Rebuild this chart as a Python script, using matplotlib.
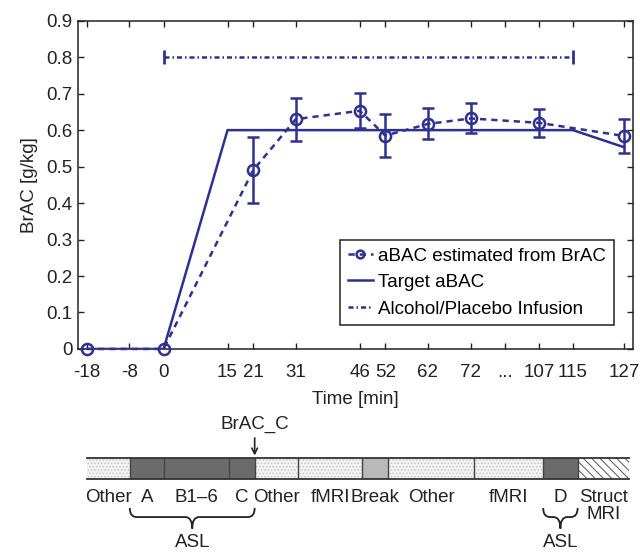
import numpy as np
import matplotlib
matplotlib.use('Agg')
import matplotlib.pyplot as plt
from matplotlib.path import Path
from matplotlib.patches import PathPatch, Rectangle

plt.rcParams['font.family'] = ['Liberation Sans', 'DejaVu Sans']
plt.rcParams['hatch.linewidth'] = 0.7

BLUE = '#2e3192'
INK = '#222222'
FS = 13.5

## Data
# aBAC estimated from BrAC (mean with error bars)
time_est = [-18, 0, 21, 31, 46, 52, 62, 72, 107, 127]
abac_est = [0, 0, 0.49, 0.63, 0.653, 0.585, 0.617, 0.632, 0.62, 0.584]
est_low = [0, 0, 0.40, 0.571, 0.605, 0.525, 0.575, 0.591, 0.582, 0.536]
est_high = [0, 0, 0.582, 0.689, 0.701, 0.644, 0.660, 0.673, 0.658, 0.630]

# target aBAC
time_target = [-18, 0, 15, 115, 127]
abac_target = [0, 0, 0.6, 0.6, 0.553]

# infusion period
time_infusion = [0, 115]
level_infusion = [0.8, 0.8]

tick_times = [-18, -8, 0, 15, 21, 31, 46, 52, 62, 72, 107, 115, 127]

# session timeline
seg_edges = [-18, -8, 0, 15, 21, 31, 46, 52, 72, 107, 115, 127]
seg_names = ['Other', 'A', 'B1–6', 'C', 'Other', 'fMRI', 'Break', 'Other',
             'fMRI', 'D', 'Struct\nMRI']
seg_kinds = ['other', 'asl', 'asl', 'asl', 'other', 'other', 'break', 'other',
             'other', 'asl', 'struct']
asl_groups = [(-8, 21), (107, 115)]


# the axis is cut between 72 and 107 min
def xpos(t):
    t = np.asarray(t, dtype=float)
    return np.where(t > 72, t - 19, t)


fig = plt.figure(figsize=(6.4, 5.52), dpi=100)
ax = fig.add_axes([0.1223, 0.3678, 0.8663, 0.5947])

x_est = xpos(time_est)
ln_est, = ax.plot(x_est, abac_est, color=BLUE, lw=1.8, ls=(0, (2.5, 2)),
                  marker='o', ms=8, mfc='none', mew=1.8, clip_on=False, zorder=4)
err_idx = slice(2, None)
yerr = [np.array(abac_est[err_idx]) - np.array(est_low[err_idx]),
        np.array(est_high[err_idx]) - np.array(abac_est[err_idx])]
ax.errorbar(x_est[err_idx], abac_est[err_idx], yerr=yerr, fmt='none',
            ecolor=BLUE, elinewidth=1.8, capsize=4, capthick=1.8, zorder=4)

ln_tgt, = ax.plot(xpos(time_target), abac_target, color=BLUE, lw=1.8, zorder=3)
ln_inf, = ax.plot(xpos(time_infusion), level_infusion, color=BLUE, lw=1.8,
                  ls=(0, (2, 1.2, 0.6, 1.2)), zorder=3)
ax.plot(xpos(time_infusion), level_infusion, ls='none', marker='|', ms=10,
        mew=2, color=BLUE, zorder=3)

ax.set_xlim(-20, 110)
ax.set_ylim(0, 0.9)
xt = list(xpos(tick_times[:10])) + [80] + list(xpos(tick_times[10:]))
xl = [str(t) for t in tick_times[:10]] + ['...'] + [str(t) for t in tick_times[10:]]
ax.set_xticks(xt)
ax.set_xticklabels(xl)
yt = np.round(np.arange(0, 0.91, 0.1), 1)
ax.set_yticks(yt)
ax.set_yticklabels(['0'] + [f'{v:.1f}' for v in yt[1:]])
ax.tick_params(direction='in', length=4, width=1, top=True, right=True,
               labelsize=FS, colors=INK)
ax.tick_params(axis='x', pad=11)
ax.tick_params(axis='y', pad=4)
for s in ax.spines.values():
    s.set_linewidth(1.1)
    s.set_color(INK)
ax.set_xlabel('Time [min]', fontsize=FS, color=INK, labelpad=7)
ax.set_ylabel('BrAC [g/kg]', fontsize=FS, color=INK, labelpad=6)

leg = ax.legend([ln_est, ln_tgt, ln_inf],
                ['aBAC estimated from BrAC', 'Target aBAC', 'Alcohol/Placebo Infusion'],
                loc='lower right', bbox_to_anchor=(0.966, 0.073), fontsize=FS,
                fancybox=False, framealpha=1, edgecolor=INK, handlelength=1.35,
                handletextpad=0.3, labelspacing=0.5, borderpad=0.4,
                borderaxespad=0, markerscale=0.7)
leg.get_frame().set_linewidth(1.1)

## Timeline bar
bx = fig.add_axes([0.1355, 0.1317, 0.8478, 0.038])
bx.set_xlim(xpos(-18), xpos(127))
bx.set_ylim(0, 1)
bx.axis('off')

styles = {
    'other': dict(facecolor='#f2f2f2', hatch='.....', edgecolor='#c8c8c8'),
    'asl': dict(facecolor='#6b6b6b', edgecolor='#6b6b6b'),
    'break': dict(facecolor='#b9b9b9', edgecolor='#b9b9b9'),
    'struct': dict(facecolor='white', hatch='\\\\\\\\', edgecolor='#555555'),
}
edges = xpos(seg_edges)
for i, (name, kind) in enumerate(zip(seg_names, seg_kinds)):
    x0, x1 = edges[i], edges[i + 1]
    bx.add_patch(Rectangle((x0, 0), x1 - x0, 1, lw=0, **styles[kind]))
    bx.text((x0 + x1) / 2, -0.45, name, ha='center', va='top', fontsize=FS,
            color=INK, linespacing=1.0)
for e in edges[1:-1]:
    bx.plot([e, e], [0, 1], color='#444444', lw=1)
bx.plot([edges[0], edges[-1]], [1, 1], color='#333333', lw=1.3, clip_on=False)
bx.plot([edges[0], edges[-1]], [0, 0], color='#333333', lw=1.3, clip_on=False)


def brace(axis, x0, x1, y_top, y_mid, y_tip, r):
    xc = (x0 + x1) / 2
    verts = [(x0, y_top), (x0, y_mid), (x0 + r, y_mid), (xc - r, y_mid),
             (xc, y_mid), (xc, y_tip),
             (x1, y_top), (x1, y_mid), (x1 - r, y_mid), (xc + r, y_mid),
             (xc, y_mid), (xc, y_tip)]
    codes = [Path.MOVETO, Path.CURVE3, Path.CURVE3, Path.LINETO,
             Path.CURVE3, Path.CURVE3] * 2
    axis.add_patch(PathPatch(Path(verts, codes), fill=False, lw=1.3,
                             edgecolor=INK, clip_on=False))
    axis.text(xc, -3.0, 'ASL', ha='center', va='center', fontsize=FS, color=INK)


for a, b in asl_groups:
    brace(bx, float(xpos(a)), float(xpos(b)), -1.37, -1.8, -2.35, 1.6)

bx.annotate('', xy=(xpos(21), 1.0), xytext=(xpos(21), 2.1),
            arrowprops=dict(arrowstyle='->', color=INK, lw=1.2), annotation_clip=False)
bx.text(xpos(21), 2.2, 'BrAC_C', ha='center', va='bottom', fontsize=FS, color=INK)

fig.savefig('out.png', dpi=100)
